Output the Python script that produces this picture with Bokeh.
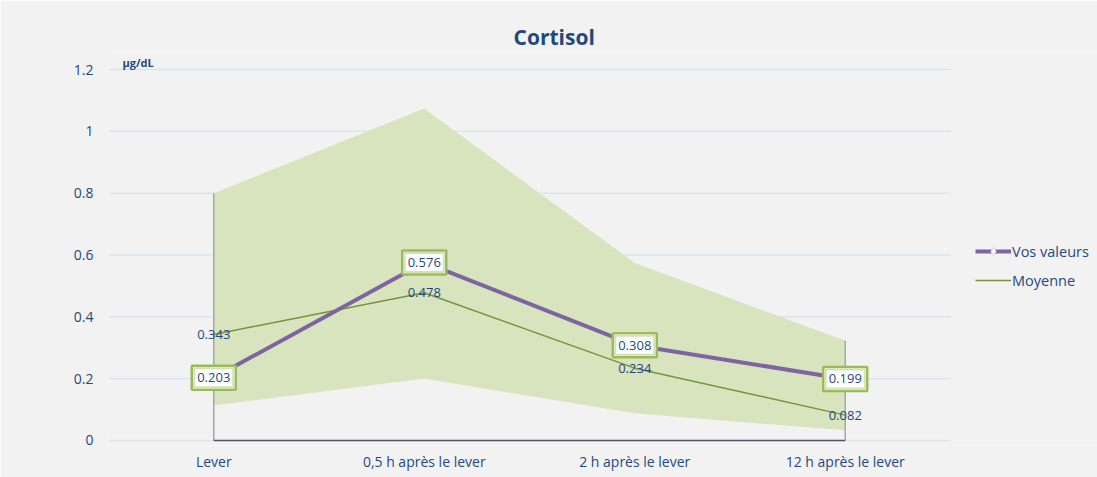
from bokeh.plotting import figure
from bokeh.models import (ColumnDataSource, Range1d, LabelSet,
                          Legend, LegendItem, FixedTicker)
from bokeh.core.properties import value
from bokeh.embed import file_html
from bokeh.resources import INLINE

categories = ["Lever", "0,5 h après le lever", "2 h après le lever", "12 h après le lever"]
vos_valeurs = [0.203, 0.576, 0.308, 0.199]
moyenne = [0.343, 0.478, 0.234, 0.082]
band_low = [0.113, 0.200, 0.087, 0.032]
band_high = [0.800, 1.074, 0.574, 0.323]
y_ticks = [0, 0.2, 0.4, 0.6, 0.8, 1.0, 1.2]
y_tick_labels = {0: "0", 0.2: "0.2", 0.4: "0.4", 0.6: "0.6", 0.8: "0.8", 1.0: "1", 1.2: "1.2"}
unit_label = "µg/dL"

FONT = "Open Sans"
TXT = "#1f497d"
BG = "#f2f2f2"

n = len(categories)
xs = list(range(n))
x_lo, x_hi = -0.5, n - 0.5          # extent of the category axis
legend_room = 147 / 210.5            # extra room on the right for the legend

src = ColumnDataSource(dict(
    x=xs, vos=vos_valeurs, moy=moyenne, low=band_low, high=band_high,
    zero=[0] * n,
    vos_txt=[f"{v:.3f}" for v in vos_valeurs],
    moy_txt=[f"{v:.3f}" for v in moyenne],
))

p = figure(width=1097, height=477, output_backend="svg", toolbar_location=None,
           x_range=Range1d(x_lo, x_hi + legend_room),
           y_range=Range1d(-0.0162, 1.255),
           min_border_left=108, min_border_right=0, min_border_top=52, min_border_bottom=32)
p.background_fill_color = BG
p.border_fill_color = BG
p.outline_line_color = None

# horizontal gridlines limited to the category extent
p.segment(x0=[x_lo] * len(y_ticks), y0=y_ticks, x1=[x_hi] * len(y_ticks), y1=y_ticks,
          line_color="#dbe5f1", line_width=1.5)

# band
p.varea(x="x", y1="low", y2="high", source=src, fill_color="#d7e4bd")
p.varea(x="x", y1="zero", y2="low", source=src, fill_color=BG)
# edge lines of the band
p.segment(x0=[xs[0], xs[-1]], y0=[0, 0], x1=[xs[0], xs[-1]], y1=[band_high[0], band_high[-1]],
          line_color="#a6a6a6", line_width=1.5)
# axis line at zero between first and last category
p.segment(x0=[xs[0]], y0=[0], x1=[xs[-1]], y1=[0], line_color="#4a5566", line_width=1.5)

moy_r = p.line("x", "moy", source=src, line_color="#77933c", line_width=1.5)
vos_r = p.line("x", "vos", source=src, line_color="#8064a2", line_width=4)
vos_m = p.scatter("x", "vos", source=src, marker="diamond", size=7,
                  fill_color="white", line_color="#d9cfe6", line_width=1)

p.add_layout(LabelSet(x="x", y="moy", text="moy_txt", source=src,
                      text_align="center", text_baseline="middle",
                      text_font=value(FONT), text_font_size="13px", text_color=TXT))
# label boxes for "Vos valeurs"
p.rect(x="x", y="vos", width=44, height=24, width_units="screen", height_units="screen",
       source=src, fill_color="white", line_color="#9bbb59", line_width=2.5)
p.rect(x="x", y="vos", width=39, height=19, width_units="screen", height_units="screen",
       source=src, fill_color="white", line_color="#d3e2b6", line_width=2)
p.add_layout(LabelSet(x="x", y="vos", text="vos_txt", source=src,
                      text_align="center", text_baseline="middle",
                      text_font=value(FONT), text_font_size="13px", text_color=TXT))

# unit label at the top-left of the plot area
p.text(x=[x_lo], y=[y_ticks[-1]], text=[unit_label], x_offset=14, y_offset=-7,
       text_align="left", text_baseline="middle", text_font=value(FONT),
       text_font_size="11px", text_font_style="bold", text_color=TXT)

# axes
p.xaxis.ticker = FixedTicker(ticks=xs)
p.xaxis.major_label_overrides = {i: c for i, c in zip(xs, categories)}
p.xaxis.axis_line_color = None
p.xaxis.major_tick_line_color = None
p.xaxis.minor_tick_line_color = None
p.xaxis.major_label_standoff = 0
p.xaxis.major_label_text_font = FONT
p.xaxis.major_label_text_font_size = "14px"
p.xaxis.major_label_text_color = TXT

p.yaxis.axis_line_color = None
p.yaxis.major_tick_line_color = None
p.yaxis.minor_tick_line_color = None
p.yaxis.ticker = FixedTicker(ticks=y_ticks)
p.yaxis.major_label_overrides = y_tick_labels
p.yaxis.major_label_standoff = 9
p.yaxis.major_label_text_font = FONT
p.yaxis.major_label_text_font_size = "14px"
p.yaxis.major_label_text_color = TXT

p.xgrid.grid_line_color = None
p.ygrid.grid_line_color = None

# title
p.title.text = "Cortisol"
p.title.align = "left"
p.title.offset = 405
p.title.standoff = 4
p.title.text_font = FONT
p.title.text_font_size = "21px"
p.title.text_font_style = "bold"
p.title.text_color = TXT

legend = Legend(items=[LegendItem(label="Vos valeurs", renderers=[vos_r, vos_m]),
                       LegendItem(label="Moyenne", renderers=[moy_r])],
                location=(867, 155), background_fill_alpha=0, border_line_color=None,
                label_text_font=FONT, label_text_font_size="14.5px", label_text_color=TXT,
                glyph_width=36, label_standoff=1, spacing=9, padding=0, margin=0)
p.add_layout(legend)

open("out.html", "w").write(file_html(p, INLINE))
